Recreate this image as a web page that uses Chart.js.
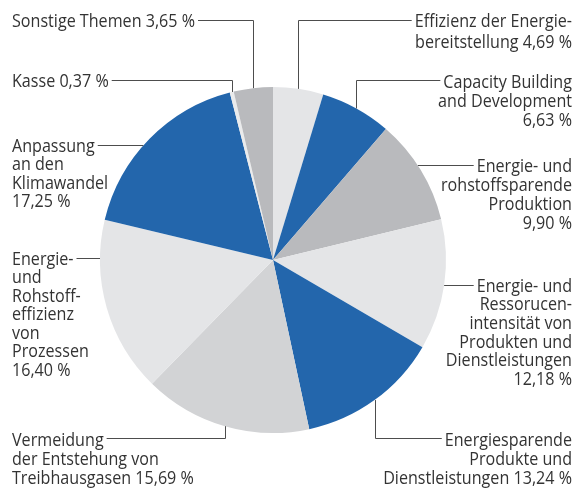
<!DOCTYPE html>
<html>
<head>
<meta charset="utf-8">
<script src="https://cdn.jsdelivr.net/npm/chart.js@4/dist/chart.umd.min.js"></script>
<style>
  body { margin: 0; background: #fff; }
</style>
</head>
<body>
<canvas id="pieCanvas" width="581" height="488"></canvas>
<script>
// Themen (Zeilenumbrüche wie im Original)
var categories = [
  ['Effizienz der Energie-', 'bereitstellung'],
  ['Capacity Building', 'and Development'],
  ['Energie- und', 'rohstoffsparende', 'Produktion'],
  ['Energie- und', 'Ressorucen-', 'intensität von', 'Produkten und', 'Dienstleistungen'],
  ['Energiesparende', 'Produkte und', 'Dienstleistungen'],
  ['Vermeidung', 'der Entstehung von', 'Treibhausgasen'],
  ['Energie-', 'und', 'Rohstoff-', 'effizienz', 'von', 'Prozessen'],
  ['Anpassung', 'an den', 'Klimawandel'],
  ['Kasse'],
  ['Sonstige Themen']
];
// Anteile in Prozent
var shares = [4.69, 6.63, 9.90, 12.18, 13.24, 15.69, 16.40, 17.25, 0.37, 3.65];

var sliceColors = ['#e4e5e7', '#2366ac', '#b9babd', '#e4e5e7', '#2366ac',
                   '#d2d3d5', '#e4e5e7', '#2366ac', '#eaebec', '#b9babd'];

// label placement: text anchor, first line centre, line pitch, leader style
var labelLayout = [
  { align: 'right', x: 572, y: 20,  lh: 21, leader: 'v', turnY: 20,  ownLine: false },
  { align: 'right', x: 572, y: 81,  lh: 19, leader: 'v', turnY: 80,  ownLine: true },
  { align: 'right', x: 572, y: 165, lh: 19, leader: 'h', ownLine: true },
  { align: 'right', x: 572, y: 285, lh: 18.6, leader: 'h', ownLine: true },
  { align: 'right', x: 572, y: 439, lh: 19, leader: 'v', turnY: 438, ownLine: false },
  { align: 'left',  x: 12,  y: 439, lh: 19, leader: 'v', turnY: 438, ownLine: false },
  { align: 'left',  x: 12,  y: 258, lh: 18.5, leader: 'h', ownLine: true },
  { align: 'left',  x: 12,  y: 145, lh: 18.5, leader: 'h', ownLine: true },
  { align: 'left',  x: 12,  y: 80,  leader: 'v', turnY: 80, ownLine: false },
  { align: 'left',  x: 12,  y: 20,  leader: 'v', turnY: 20, ownLine: false }
];

var FONT_SIZE = 19;
var FONT = FONT_SIZE + 'px "Open Sans", "Noto Sans", sans-serif';
// the original uses a condensed face; squeeze the text horizontally to match
var REF_TEXT = 'Sonstige Themen 3,65 %';
var REF_WIDTH = 183;

function fmt(v) {
  return v.toFixed(2).replace('.', ',') + ' %';
}

var leaderLabels = {
  id: 'leaderLabels',
  afterDraw: function (chart) {
    var ctx = chart.ctx;
    var meta = chart.getDatasetMeta(0);
    ctx.save();
    ctx.font = FONT;
    var sx = REF_WIDTH / ctx.measureText(REF_TEXT).width;
    ctx.fillStyle = '#333333';
    ctx.strokeStyle = '#4d4d4d';
    ctx.lineWidth = 1;
    ctx.textBaseline = 'alphabetic';

    meta.data.forEach(function (arc, i) {
      var lay = labelLayout[i];
      var lines = categories[i].slice();
      var val = fmt(shares[i]);
      if (lay.ownLine) lines.push(val);
      else lines[lines.length - 1] = lines[lines.length - 1] + ' ' + val;

      // text, condensed around its anchor x
      ctx.textAlign = lay.align;
      var lh = lay.lh || 19;
      ctx.save();
      ctx.translate(lay.x, 0);
      ctx.scale(sx, 1);
      lines.forEach(function (t, k) {
        ctx.fillText(t, 0, lay.y + k * lh + FONT_SIZE * 0.36);
      });
      ctx.restore();

      // where the leader meets the text
      var w = ctx.measureText(lines[0]).width * sx;
      var textX = lay.align === 'left' ? lay.x + w + 3 : lay.x - w - 3;

      var cx = arc.x, cy = arc.y, r = arc.outerRadius;
      var pts = [];
      if (lay.leader === 'v') {
        var mid = (arc.startAngle + arc.endAngle) / 2;
        var ex = Math.round(cx + r * Math.cos(mid)) + 0.5;
        var ey = cy + r * Math.sin(mid);
        var ty = Math.round(lay.turnY) + 0.5;
        pts = [[ex, ey], [ex, ty], [textX, ty]];
      } else {
        var hy = Math.round(lay.y) + 0.5;
        var dx = Math.sqrt(r * r - (hy - cy) * (hy - cy));
        var edgeX = lay.align === 'left' ? cx - dx : cx + dx;
        pts = [[edgeX, hy], [textX, hy]];
      }
      ctx.beginPath();
      ctx.moveTo(pts[0][0], pts[0][1]);
      for (var p = 1; p < pts.length; p++) ctx.lineTo(pts[p][0], pts[p][1]);
      ctx.stroke();
    });
    ctx.restore();
  }
};

var ctx = document.getElementById('pieCanvas').getContext('2d');
var pieChart = new Chart(ctx, {
  type: 'pie',
  data: {
    labels: categories,
    datasets: [{
      data: shares,
      backgroundColor: sliceColors,
      borderWidth: 0
    }]
  },
  options: {
    responsive: false,
    animation: false,
    layout: { padding: { left: 100, right: 135, top: 87, bottom: 55 } },
    plugins: {
      legend: { display: false },
      tooltip: { enabled: false }
    }
  },
  plugins: [leaderLabels]
});
</script>
</body>
</html>
